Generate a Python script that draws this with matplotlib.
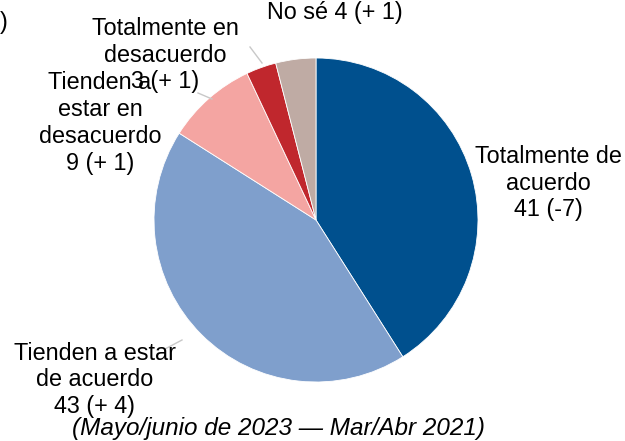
import matplotlib.pyplot as plt

plt.rcParams['font.family'] = ['Liberation Sans', 'DejaVu Sans']

categories = ["Totalmente de\nacuerdo", "Tienden a estar\nde acuerdo",
              "Tienden a\nestar en\ndesacuerdo", "Totalmente en\ndesacuerdo", "No sé"]
values = [41, 43, 9, 3, 4]
changes = ["(-7)", "(+ 4)", "(+ 1)", "(+ 1)", "(+ 1)"]
colors = ["#00508E", "#7F9FCC", "#F4A5A2", "#C0272D", "#BFABA4"]
caption = "(Mayo/junio de 2023 \u2014 Mar/Abr 2021)"

W, H = 625, 441
fig = plt.figure(figsize=(W / 100, H / 100), dpi=100)
ax = fig.add_axes([0, 0, 1, 1])

cx, cy, r = 316, H - 220, 162
ax.pie(values, colors=colors, startangle=90, counterclock=False,
       center=(cx, cy), radius=r,
       wedgeprops=dict(edgecolor="white", linewidth=0.6))
ax.set_xlim(0, W)
ax.set_ylim(0, H)
ax.set_aspect("equal")
ax.axis("off")

fs = 16.8
# label positions (pixel space, y from top)
pos = [(548, 183), (95, 380), (100, 123), (165, 55), (335, 12)]
for cat, v, ch, (x, y) in zip(categories, values, changes, pos):
    if cat == "No sé":
        txt = f"{cat} {v} {ch}"
    else:
        txt = f"{cat}\n{v} {ch}"
    ax.text(x, H - y, txt, ha="center", va="center", fontsize=fs,
            linespacing=1.22, color="black")

# leader lines
lc = "#C8C8C8"
ax.plot([250, 262], [H - 47, H - 63], color=lc, lw=1)
ax.plot([198, 212], [H - 93, H - 99], color=lc, lw=1)
ax.plot([165, 182], [H - 349, H - 340], color=lc, lw=1)

ax.text(279, H - 428, caption, ha="center", va="center", fontsize=17.5,
        style="italic")
ax.text(0, H - 22, ")", ha="left", va="center", fontsize=fs)

fig.savefig("out.png", dpi=100)
